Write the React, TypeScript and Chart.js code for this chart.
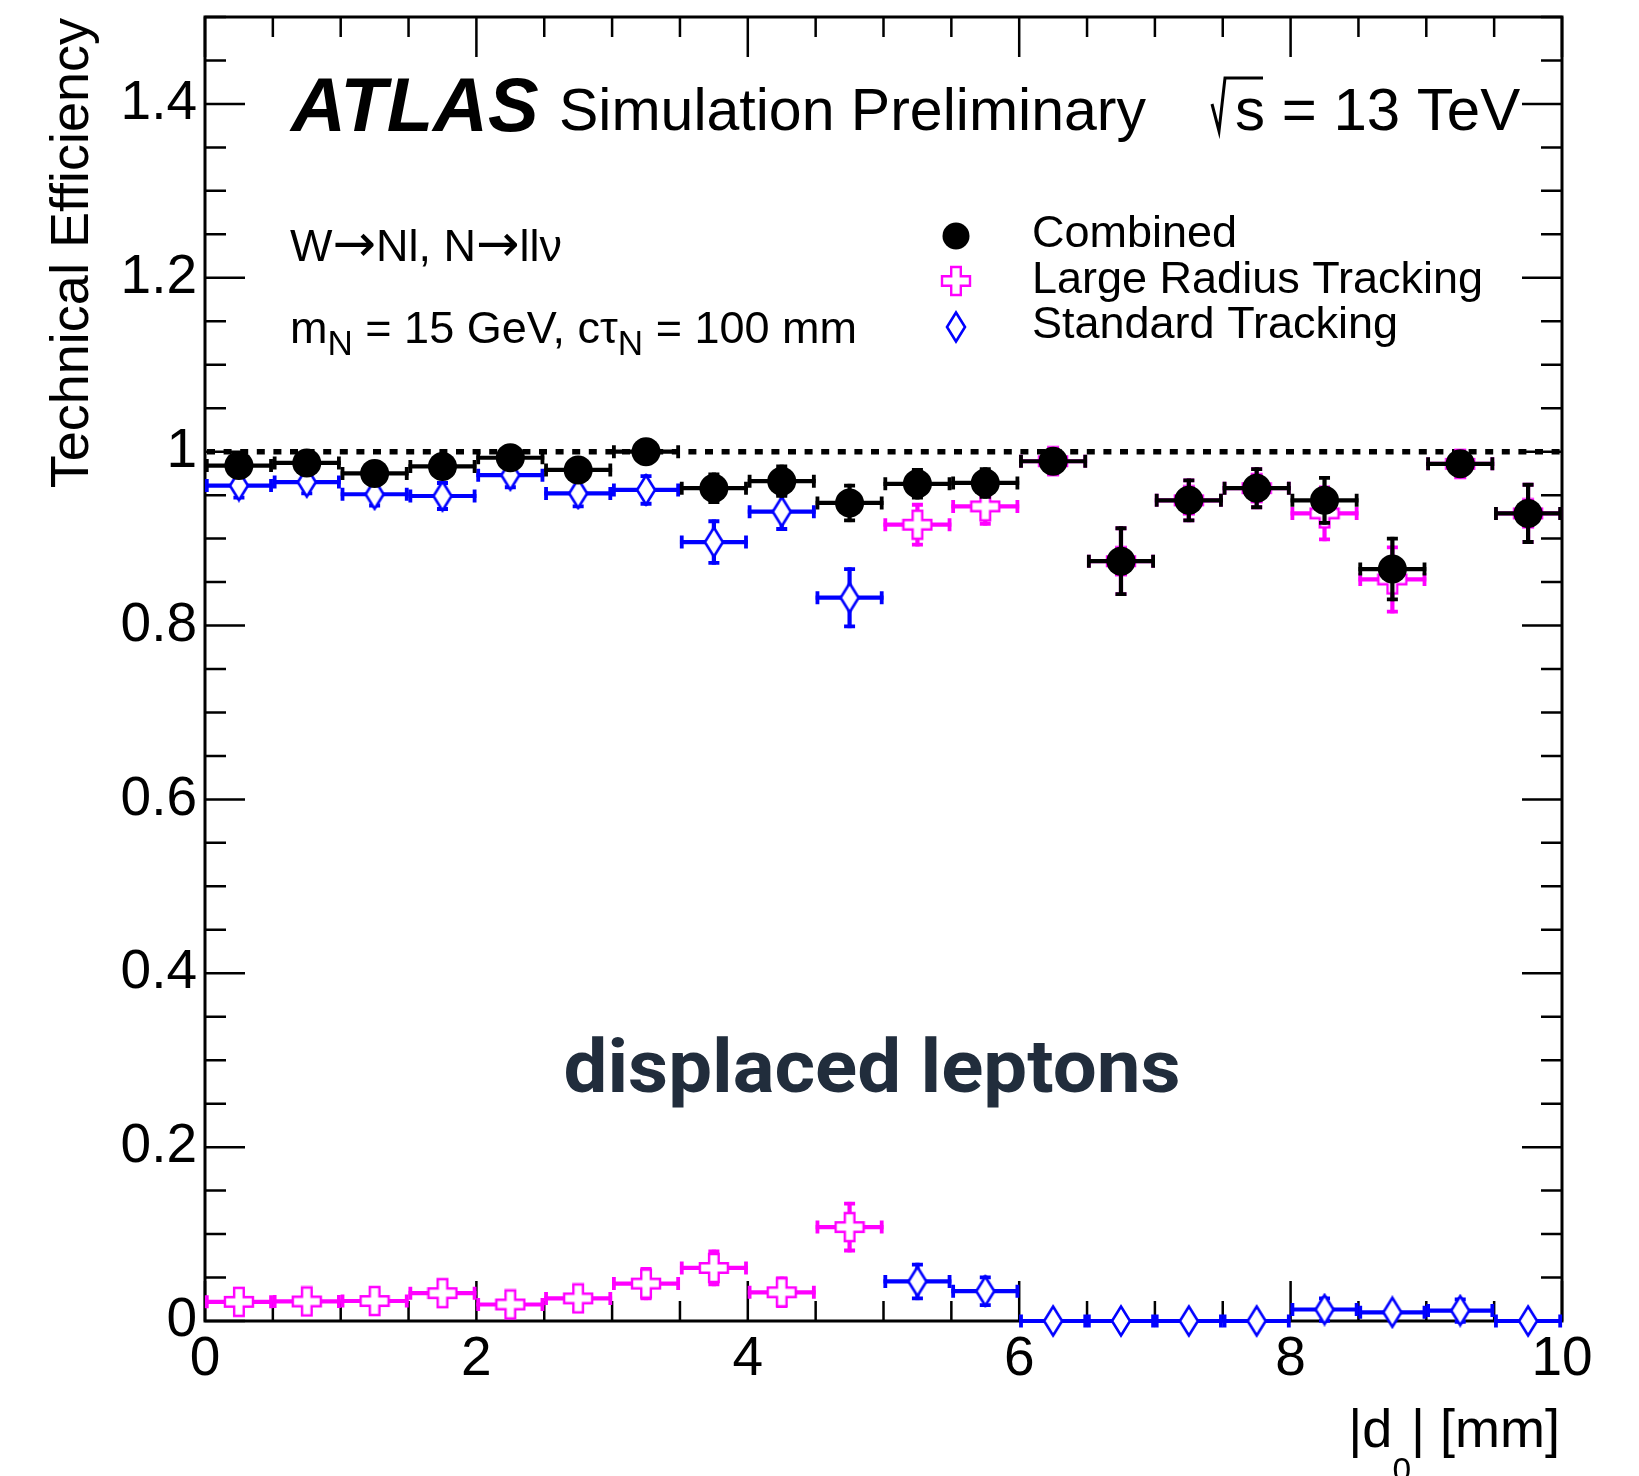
import React, { useEffect, useRef } from "react";
import { Chart, registerables } from "chart.js";

Chart.register(...registerables);

// ---------------- data ----------------
const BIN_CENTERS = [0.25, 0.75, 1.25, 1.75, 2.25, 2.75, 3.25, 3.75, 4.25, 4.75, 5.25, 5.75, 6.25, 6.75, 7.25, 7.75, 8.25, 8.75, 9.25, 9.75];
const BIN_HALF_WIDTH = 0.25;

const COMBINED = [0.984, 0.987, 0.975, 0.983, 0.993, 0.979, 1.0, 0.958, 0.966, 0.941, 0.963, 0.964, 0.989, 0.874, 0.944, 0.958, 0.944, 0.865, 0.986, 0.929];
const COMBINED_ERR = [0.008, 0.008, 0.009, 0.009, 0.007, 0.009, 0.005, 0.018, 0.019, 0.022, 0.018, 0.018, 0.008, 0.04, 0.025, 0.024, 0.028, 0.037, 0.009, 0.035];

const LRT = [0.022, 0.0225, 0.023, 0.032, 0.019, 0.026, 0.043, 0.061, 0.033, 0.108, 0.916, 0.937, 0.989, 0.874, 0.944, 0.958, 0.929, 0.853, 0.986, 0.929];
const LRT_ERR = [0.013, 0.013, 0.013, 0.016, 0.013, 0.016, 0.019, 0.021, 0.018, 0.029, 0.025, 0.022, 0.008, 0.04, 0.025, 0.024, 0.032, 0.039, 0.009, 0.035];

const STANDARD = [0.961, 0.965, 0.951, 0.949, 0.973, 0.952, 0.956, 0.896, 0.931, 0.832, 0.0455, 0.0343, 0, 0, 0, 0, 0.0132, 0.01, 0.012, 0];
const STANDARD_ERR = [0.016, 0.015, 0.015, 0.017, 0.016, 0.017, 0.018, 0.026, 0.022, 0.035, 0.0215, 0.018, 0, 0, 0, 0, 0.015, 0.008, 0.015, 0];

const SERIES_LABELS = ["Combined", "Large Radius Tracking", "Standard Tracking"];
const X_TICKS = [0, 2, 4, 6, 8, 10];
const Y_TICKS = [0, 0.2, 0.4, 0.6, 0.8, 1, 1.2, 1.4];
const REFERENCE_LINE = 1;

// ---------------- styles ----------------
const FONT = '"Liberation Sans", Arial, Helvetica, sans-serif';
const ARROW_FONT = '"DejaVu Sans", sans-serif';
const MAGENTA = "#ff00ff";
const BLUE = "#0000ff";
const BLACK = "#000000";

function makeCross(color: string) {
  const c = document.createElement("canvas");
  c.width = 32;
  c.height = 32;
  const g = c.getContext("2d")!;
  const m = 16, a = 4.8, L = 14;
  g.beginPath();
  g.moveTo(m - a, m - L);
  g.lineTo(m + a, m - L);
  g.lineTo(m + a, m - a);
  g.lineTo(m + L, m - a);
  g.lineTo(m + L, m + a);
  g.lineTo(m + a, m + a);
  g.lineTo(m + a, m + L);
  g.lineTo(m - a, m + L);
  g.lineTo(m - a, m + a);
  g.lineTo(m - L, m + a);
  g.lineTo(m - L, m - a);
  g.lineTo(m - a, m - a);
  g.closePath();
  g.fillStyle = "#ffffff";
  g.fill();
  g.strokeStyle = color;
  g.lineWidth = 2.4;
  g.stroke();
  return c;
}

function makeDiamond(color: string) {
  const c = document.createElement("canvas");
  c.width = 22;
  c.height = 34;
  const g = c.getContext("2d")!;
  g.beginPath();
  g.moveTo(11, 2.5);
  g.lineTo(20, 17);
  g.lineTo(11, 31.5);
  g.lineTo(2, 17);
  g.closePath();
  g.fillStyle = "#ffffff";
  g.fill();
  g.strokeStyle = color;
  g.lineWidth = 2.6;
  g.stroke();
  return c;
}

type Part = { t: string; sub?: boolean; family?: string; size?: number; dy?: number };

function drawRich(ctx: CanvasRenderingContext2D, parts: Part[], x: number, y: number, size: number, subScale: number, subDy: number, draw = true) {
  let cx = x;
  for (const p of parts) {
    const s = p.size ?? (p.sub ? size * subScale : size);
    ctx.font = `${s}px ${p.family ?? FONT}`;
    const yy = y + (p.sub ? subDy : 0) + (p.dy ?? 0);
    if (draw) ctx.fillText(p.t, cx, yy);
    cx += ctx.measureText(p.t).width;
  }
  return cx - x;
}

export default function App() {
  const ref = useRef<HTMLCanvasElement>(null);

  useEffect(() => {
    document.body.style.margin = "0";
    document.body.style.overflow = "hidden";
    const canvas = ref.current!;
    const cross = makeCross(MAGENTA);
    const diamond = makeDiamond(BLUE);

    const errorSets = [COMBINED_ERR, LRT_ERR, STANDARD_ERR];
    const colors = [BLACK, MAGENTA, BLUE];

    const framePlugin = {
      id: "frame",
      beforeDatasetsDraw(chart: any) {
        const { ctx, chartArea: a, scales } = chart;
        const xs = scales.x, ys = scales.y;
        ctx.save();
        ctx.strokeStyle = "#000";
        ctx.lineWidth = 2.5;
        ctx.beginPath();
        for (let k = 0; k <= 30; k++) {
          const py = ys.getPixelForValue(k * 0.05);
          const len = k % 4 === 0 ? 40 : 21;
          ctx.moveTo(a.left, py);
          ctx.lineTo(a.left + len, py);
          ctx.moveTo(a.right, py);
          ctx.lineTo(a.right - len, py);
        }
        for (let k = 0; k <= 20; k++) {
          const px = xs.getPixelForValue(k * 0.5);
          const len = k % 4 === 0 ? 40 : 20;
          ctx.moveTo(px, a.bottom);
          ctx.lineTo(px, a.bottom - len);
          ctx.moveTo(px, a.top);
          ctx.lineTo(px, a.top + len);
        }
        ctx.stroke();
        ctx.lineWidth = 3;
        ctx.strokeRect(a.left, a.top, a.right - a.left, a.bottom - a.top);
        const yr = ys.getPixelForValue(REFERENCE_LINE);
        ctx.setLineDash([8, 8.6]);
        ctx.lineWidth = 5.5;
        ctx.beginPath();
        ctx.moveTo(a.left + 2, yr);
        ctx.lineTo(a.right, yr);
        ctx.stroke();
        ctx.restore();
      },
    };

    const errorPlugin = {
      id: "errorbars",
      beforeDatasetDraw(chart: any, args: any) {
        const i = args.index;
        const errs = errorSets[i];
        const ds = chart.data.datasets[i];
        const { ctx, scales } = chart;
        const xs = scales.x, ys = scales.y;
        ctx.save();
        ctx.strokeStyle = colors[i];
        ctx.lineCap = "butt";
        ds.data.forEach((d: any, j: number) => {
          const py = ys.getPixelForValue(d.y);
          const px = xs.getPixelForValue(d.x);
          const x0 = xs.getPixelForValue(d.x - BIN_HALF_WIDTH);
          const x1 = xs.getPixelForValue(d.x + BIN_HALF_WIDTH);
          ctx.lineWidth = 4.2;
          ctx.beginPath();
          ctx.moveTo(x0, py);
          ctx.lineTo(x1, py);
          ctx.stroke();
          ctx.lineWidth = 3.8;
          ctx.beginPath();
          ctx.moveTo(x0 + 1.8, py - 6.5);
          ctx.lineTo(x0 + 1.8, py + 6.5);
          ctx.moveTo(x1 - 1.8, py - 6.5);
          ctx.lineTo(x1 - 1.8, py + 6.5);
          ctx.stroke();
          const e = errs[j];
          if (e > 0) {
            const yt = ys.getPixelForValue(d.y + e);
            const yb = ys.getPixelForValue(d.y - e);
            ctx.lineWidth = 4.2;
            ctx.beginPath();
            ctx.moveTo(px, yt);
            ctx.lineTo(px, yb);
            ctx.stroke();
            ctx.lineWidth = 3.8;
            ctx.beginPath();
            ctx.moveTo(px - 5.5, yt + 1.8);
            ctx.lineTo(px + 5.5, yt + 1.8);
            ctx.moveTo(px - 5.5, yb - 1.8);
            ctx.lineTo(px + 5.5, yb - 1.8);
            ctx.stroke();
          }
        });
        ctx.restore();
      },
    };

    const textPlugin = {
      id: "texts",
      afterDraw(chart: any) {
        const { ctx } = chart;
        ctx.save();
        ctx.fillStyle = "#000";
        ctx.textBaseline = "alphabetic";
        ctx.textAlign = "left";

        ctx.font = `italic bold 76px ${FONT}`;
        ctx.fillText("ATLAS", 291, 131);
        ctx.font = `59px ${FONT}`;
        ctx.fillText("Simulation Preliminary", 559, 130);

        ctx.strokeStyle = "#000";
        ctx.lineWidth = 3;
        ctx.beginPath();
        ctx.moveTo(1212, 104);
        ctx.lineTo(1219, 131);
        ctx.lineTo(1225, 78);
        ctx.lineTo(1263, 78);
        ctx.stroke();
        ctx.font = `60px ${FONT}`;
        ctx.fillText("s = 13 TeV", 1235, 130);

        const arrow: Part = { t: "\u2192", family: ARROW_FONT, size: 52, dy: 0 };
        drawRich(ctx, [{ t: "W" }, arrow, { t: "Nl, N" }, arrow, { t: "ll\u03bd" }], 290, 261, 45, 0.75, 11);
        drawRich(ctx, [{ t: "m" }, { t: "N", sub: true }, { t: " = 15 GeV, c\u03c4" }, { t: "N", sub: true }, { t: " = 100 mm" }], 290, 343, 45, 0.78, 12);

        ctx.beginPath();
        ctx.fillStyle = "#000";
        ctx.arc(956, 236, 13.5, 0, Math.PI * 2);
        ctx.fill();
        ctx.drawImage(cross, 956 - 16, 281 - 16);
        ctx.drawImage(diamond, 956 - 11, 327 - 17);
        ctx.font = `45px ${FONT}`;
        ctx.fillText(SERIES_LABELS[0], 1032, 247);
        ctx.fillText(SERIES_LABELS[1], 1032, 293);
        ctx.fillText(SERIES_LABELS[2], 1032, 338);

        ctx.save();
        ctx.translate(88, 18);
        ctx.rotate(-Math.PI / 2);
        ctx.textAlign = "right";
        ctx.font = `54px ${FONT}`;
        ctx.fillText("Technical Efficiency", 0, 0);
        ctx.restore();

        const xParts: Part[] = [{ t: "|d" }, { t: "0", sub: true }, { t: "| [mm]" }];
        const w = drawRich(ctx, xParts, 0, 0, 54, 0.62, 34, false);
        drawRich(ctx, xParts, 1560 - w, 1447, 54, 0.62, 34);

        ctx.fillStyle = "#212d3c";
        ctx.font = `bold 74px Roboto, "DejaVu Sans", sans-serif`;
        const tw = ctx.measureText("displaced leptons").width;
        ctx.save();
        ctx.translate(872, 1092);
        ctx.scale(617 / tw, 1);
        ctx.textAlign = "center";
        ctx.fillText("displaced leptons", 0, 0);
        ctx.restore();

        ctx.restore();
      },
    };

    const toPoints = (vals: number[]) => BIN_CENTERS.map((x, i) => ({ x, y: vals[i] }));

    const chart = new Chart(canvas, {
      type: "scatter",
      data: {
        datasets: [
          {
            label: SERIES_LABELS[0],
            data: toPoints(COMBINED),
            pointStyle: "circle",
            pointRadius: 14.5,
            backgroundColor: BLACK,
            borderColor: BLACK,
            borderWidth: 0,
            showLine: false,
            clip: false,
          },
          {
            label: SERIES_LABELS[1],
            data: toPoints(LRT),
            pointStyle: cross,
            pointRadius: 14,
            showLine: false,
            clip: false,
          },
          {
            label: SERIES_LABELS[2],
            data: toPoints(STANDARD),
            pointStyle: diamond,
            pointRadius: 14,
            showLine: false,
            clip: false,
          },
        ] as any,
      },
      options: {
        animation: false,
        responsive: false,
        devicePixelRatio: 1,
        events: [],
        layout: { padding: { left: 0, right: 77, top: 17, bottom: 0 } },
        plugins: { legend: { display: false }, tooltip: { enabled: false } },
        scales: {
          x: {
            type: "linear",
            min: 0,
            max: 10,
            grid: { display: false, drawTicks: false },
            border: { display: false },
            ticks: {
              color: "#000",
              font: { size: 55, family: FONT },
              padding: 6,
              maxRotation: 0,
              autoSkip: false,
              callback: (v: any) => String(Number(v)),
            },
            afterBuildTicks: (s: any) => {
              s.ticks = X_TICKS.map((v) => ({ value: v }));
            },
            afterFit: (s: any) => {
              s.height = 155;
              s.paddingLeft = 0;
              s.paddingRight = 0;
            },
          },
          y: {
            type: "linear",
            min: 0,
            max: 1.5,
            grid: { display: false, drawTicks: false },
            border: { display: false },
            ticks: {
              color: "#000",
              font: { size: 55, family: FONT },
              padding: 8,
              autoSkip: false,
              callback: (v: any) => String(Number(v)),
            },
            afterBuildTicks: (s: any) => {
              s.ticks = Y_TICKS.map((v) => ({ value: v }));
            },
            afterFit: (s: any) => {
              s.width = 205;
              s.paddingTop = 0;
              s.paddingBottom = 0;
            },
          },
        },
      } as any,
      plugins: [framePlugin, errorPlugin, textPlugin],
    });
    return () => chart.destroy();
  }, []);

  return <canvas ref={ref} width={1639} height={1476} style={{ display: "block", width: 1639, height: 1476 }} />;
}
